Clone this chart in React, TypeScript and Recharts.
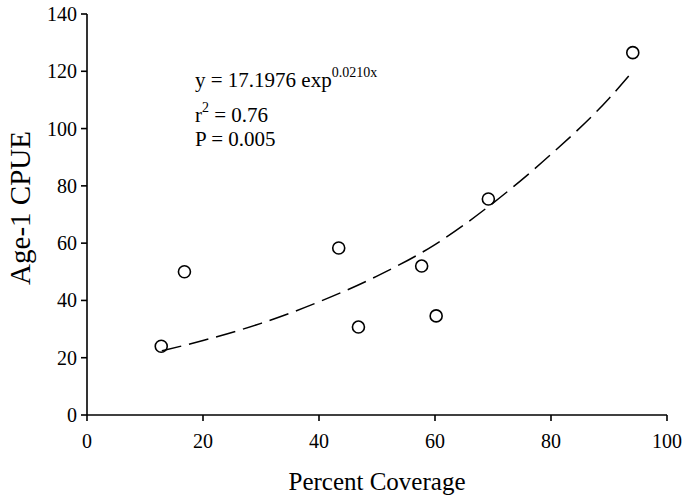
import React from "react";
import { ComposedChart, Label, Line, Scatter, XAxis, YAxis } from "recharts";

// observed points
const coverage = [12.8, 16.8, 43.4, 46.8, 57.7, 60.2, 69.2, 94.1];
const cpue = [24, 50, 58.3, 30.7, 52, 34.6, 75.4, 126.5];

// fitted curve
const fitCoverage = [12.9, 20, 30, 40, 50, 60, 70, 80, 90, 94];
const fitCpue = [22.4, 26, 32, 39.5, 48.5, 59.5, 74, 91, 110.5, 119.8];

const xTicks = [0, 20, 40, 60, 80, 100];
const yTicks = [0, 20, 40, 60, 80, 100, 120, 140];

const points = coverage.map((x, i) => ({ x, y: cpue[i] }));
const fit = fitCoverage.map((x, i) => ({ x, y: fitCpue[i] }));

const serif = "'Liberation Serif', 'Times New Roman', serif";

function OpenCircle(props: any) {
  return <circle cx={props.cx} cy={props.cy} r={6} fill="none" stroke="#000" strokeWidth={1.6} />;
}

function XTick({ x, y, payload }: any) {
  return (
    <text x={x} y={y + 9} textAnchor="middle" fontSize={20} fontFamily={serif} fill="#000">
      {payload.value}
    </text>
  );
}

function YTick({ x, y, payload }: any) {
  return (
    <text x={x} y={y + 7} textAnchor="end" fontSize={20} fontFamily={serif} fill="#000">
      {payload.value}
    </text>
  );
}

export default function App() {
  return (
    <div style={{ position: "absolute", left: 0, top: 0, width: 683, height: 500, background: "#fff" }}>
      <ComposedChart width={683} height={500} margin={{ top: 14, right: 16, bottom: 0, left: 27 }}>
        <XAxis
          type="number"
          dataKey="x"
          domain={[0, 100]}
          ticks={xTicks}
          interval={0}
          height={85}
          tickSize={6}
          tickMargin={18}
          axisLine={{ stroke: "#000", strokeWidth: 1.6 }}
          tickLine={{ stroke: "#000", strokeWidth: 1.6 }}
          tick={<XTick />}
        >
          <Label
            content={() => (
              <text x={377} y={490} textAnchor="middle" fontSize={25} fontFamily={serif} fill="#000">
                Percent Coverage
              </text>
            )}
          />
        </XAxis>
        <YAxis
          type="number"
          dataKey="y"
          domain={[0, 140]}
          ticks={yTicks}
          interval={0}
          width={60}
          tickSize={6}
          tickMargin={4}
          axisLine={{ stroke: "#000", strokeWidth: 1.6 }}
          tickLine={{ stroke: "#000", strokeWidth: 1.6 }}
          tick={<YTick />}
        >
          <Label
            content={() => (
              <text
                x={30}
                y={208}
                textAnchor="middle"
                fontSize={29}
                fontFamily={serif}
                fill="#000"
                transform="rotate(-90, 30, 208)"
              >
                Age-1 CPUE
              </text>
            )}
          />
        </YAxis>
        <Line
          data={fit}
          dataKey="y"
          type="monotone"
          stroke="#000"
          strokeWidth={1.5}
          strokeDasharray="20 8"
          dot={false}
          activeDot={false}
          isAnimationActive={false}
        />
        <Scatter data={points} dataKey="y" shape={<OpenCircle />} isAnimationActive={false} />
      </ComposedChart>
      <svg width={683} height={500} style={{ position: "absolute", left: 0, top: 0, pointerEvents: "none" }}>
        <text x={195} y={87} fontSize={21} fontFamily={serif} fill="#000">
          y = 17.1976 exp
          <tspan fontSize={14} dy={-10}>0.0210x</tspan>
        </text>
        <text x={195} y={122} fontSize={21} fontFamily={serif} fill="#000">
          r<tspan fontSize={14} dy={-10}>2</tspan>
          <tspan dy={10}> = 0.76</tspan>
        </text>
        <text x={195} y={146} fontSize={21} fontFamily={serif} fill="#000">
          P = 0.005
        </text>
      </svg>
    </div>
  );
}
